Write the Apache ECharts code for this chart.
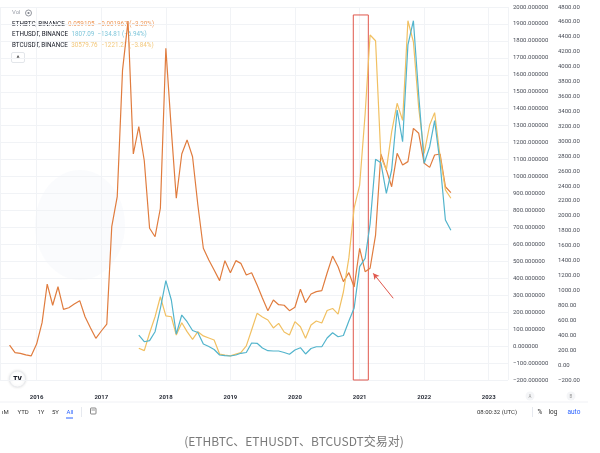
<!DOCTYPE html>
<html><head><meta charset="utf-8">
<script src="https://cdn.jsdelivr.net/npm/echarts@6/dist/echarts.min.js"></script>
<style>html,body{margin:0;padding:0;background:#fff;}#c{width:600px;height:453px;}</style>
</head><body><div id="c"></div>
<script>
// Monthly points (bar start dates); value = that month's close
const months = [
 '2015-08','2015-09','2015-10','2015-11','2015-12',
 '2016-01','2016-02','2016-03','2016-04','2016-05','2016-06','2016-07','2016-08','2016-09','2016-10','2016-11','2016-12',
 '2017-01','2017-02','2017-03','2017-04','2017-05','2017-06','2017-07','2017-08','2017-09','2017-10','2017-11','2017-12',
 '2018-01','2018-02','2018-03','2018-04','2018-05','2018-06','2018-07','2018-08','2018-09','2018-10','2018-11','2018-12',
 '2019-01','2019-02','2019-03','2019-04','2019-05','2019-06','2019-07','2019-08','2019-09','2019-10','2019-11','2019-12',
 '2020-01','2020-02','2020-03','2020-04','2020-05','2020-06','2020-07','2020-08','2020-09','2020-10','2020-11','2020-12',
 '2021-01','2021-02','2021-03','2021-04','2021-05','2021-06','2021-07','2021-08','2021-09','2021-10','2021-11','2021-12',
 '2022-01','2022-02','2022-03','2022-04','2022-05','2022-06'
];
// ETHBTC, on scale A (6-decimal axis)
const ethbtc = [
 6,-39,-43,-52,-58,
 12,138,366,241,350,217,226,248,268,173,107,46,
 89,130,704,881,1628,1917,1133,1294,1093,695,645,813,
 1756,1274,872,1133,1216,1117,832,577,508,449,386,504,
 433,504,488,419,433,360,284,209,272,244,241,209,
 229,335,256,307,321,327,431,531,468,380,433,349,
 577,439,459,655,1133,1039,940,1137,1068,1088,1284,1255,
 1078,1054,1127,1133,940,905
];
// ETHUSDT, on scale B (2-decimal axis), starts 2017-08
const ethusdt = [
 403,313,327,447,761,
 1131,872,417,671,581,464,437,283,249,209,135,128,
 122,135,158,169,296,292,229,193,189,189,169,145,
 202,233,149,222,246,246,363,434,380,397,591,765,
 1319,1431,1891,2759,2713,2303,2615,3419,2994,4291,4616,3620,
 2705,2927,3276,2705,1945,1807.09
];
// BTCUSDT, drawn on scale A, starts 2017-08
const btcusdt = [
 -13,-27,77,173,291,
 178,173,65,138,85,40,85,60,48,36,-47,-53,
 -58,-47,-39,1,95,193,172,154,107,134,83,65,
 144,114,46,124,148,136,210,222,189,319,520,815,
 950,1369,1835,1801,1115,1039,1263,1432,1331,1919,1795,1404,
 1137,1304,1377,1117,921,872
];
const legendRows = [
 {name:'ETHBTC, BINANCE', value:'0.059105  \u22120.001967 (\u22123.20%)', color:'#ee9a5c'},
 {name:'ETHUSDT, BINANCE', value:'1807.09  \u2212134.81 (\u22126.94%)', color:'#7fc6da'},
 {name:'BTCUSDT, BINANCE', value:'30579.76  \u22121221.21 (\u22123.84%)', color:'#f2c77a'}
];
const yearTicks = ['2016','2017','2018','2019','2020','2021','2022','2023'];

const C_ORANGE = '#e07c3e', C_BLUE = '#52b4cc', C_YELLOW = '#f1c062', C_RED = '#e0574c';
const FONT = 'Roboto, "Noto Sans", sans-serif';

function pair(vals, startIdx) {
  return vals.map((v, i) => [months[startIdx + i] + '-01', v]);
}
const ethStart = months.indexOf('2017-08');

function fmt(v, d) {
  const s = Math.abs(v).toFixed(d);
  return (v < 0 ? '\u2212' : '') + s;
}

const chart = echarts.init(document.getElementById('c'), null, {renderer:'canvas'});

const graphics = [
  {type:'ellipse', shape:{cx:80, cy:225, rx:45, ry:55}, style:{fill:'rgba(228,234,245,0.18)'}, silent:true, z:-10},
  {type:'text', left:12, top:9, style:{text:'Vol', fontSize:6, fill:'#9a9ea8', fontFamily:FONT}},
  {type:'circle', shape:{cx:28.5, cy:13, r:3}, style:{fill:'none', stroke:'#7a7e88', lineWidth:0.8}},
  {type:'circle', shape:{cx:28.5, cy:13, r:1.1}, style:{fill:'#7a7e88'}},
  {type:'rect', shape:{x:11.5, y:52.5, width:13, height:10, r:1.5}, style:{fill:'#fff', stroke:'#dcdfe5', lineWidth:0.8}},
  {type:'text', x:18, y:59, style:{text:'^', fontSize:7, fill:'#333', align:'center', verticalAlign:'middle', fontFamily:FONT, fontWeight:'bold'}},
  // TV logo
  {type:'circle', shape:{cx:17.5, cy:379, r:8}, style:{fill:'#fff', stroke:'#e6e8ec', lineWidth:0.8, shadowBlur:3, shadowColor:'rgba(0,0,0,0.12)'}},
  {type:'text', x:17.5, y:379.5, style:{text:'TV', fontSize:6.5, fill:'#131722', align:'center', verticalAlign:'middle', fontWeight:900, fontFamily:FONT}},
  // A / B scale badges
  {type:'circle', shape:{cx:530, cy:396, r:4.5}, style:{fill:'#f4f5f7'}},
  {type:'text', x:530, y:396.5, style:{text:'A', fontSize:4.5, fill:'#999', align:'center', verticalAlign:'middle', fontFamily:FONT}},
  {type:'circle', shape:{cx:571, cy:396, r:4.5}, style:{fill:'#f4f5f7'}},
  {type:'text', x:571, y:396.5, style:{text:'B', fontSize:4.5, fill:'#999', align:'center', verticalAlign:'middle', fontFamily:FONT}},
  // separator
  {type:'line', shape:{x1:0, y1:402, x2:588, y2:402}, style:{stroke:'#eceef2', lineWidth:0.8}},
  // bottom toolbar
  {type:'text', x:2, y:412, style:{text:'\u0131M', fontSize:6, fill:'#333', verticalAlign:'middle', fontFamily:FONT}},
  {type:'text', x:17.5, y:412, style:{text:'YTD', fontSize:6, fill:'#333', verticalAlign:'middle', fontFamily:FONT}},
  {type:'text', x:37.5, y:412, style:{text:'1Y', fontSize:6, fill:'#333', verticalAlign:'middle', fontFamily:FONT}},
  {type:'text', x:52, y:412, style:{text:'5Y', fontSize:6, fill:'#333', verticalAlign:'middle', fontFamily:FONT}},
  {type:'text', x:66.5, y:412, style:{text:'All', fontSize:6, fill:'#2962ff', verticalAlign:'middle', fontFamily:FONT}},
  {type:'line', shape:{x1:66, y1:418, x2:73, y2:418}, style:{stroke:'#2962ff', lineWidth:1}},
  {type:'line', shape:{x1:81.5, y1:407, x2:81.5, y2:417}, style:{stroke:'#e0e3eb', lineWidth:0.8}},
  {type:'rect', shape:{x:90.5, y:408, width:5.5, height:6, r:0.8}, style:{fill:'none', stroke:'#555', lineWidth:0.7}},
  {type:'line', shape:{x1:91.5, y1:410, x2:95, y2:410}, style:{stroke:'#555', lineWidth:0.6}},
  {type:'text', x:477, y:412, style:{text:'08:00:32 (UTC)', fontSize:6, fill:'#333', verticalAlign:'middle', fontFamily:FONT}},
  {type:'line', shape:{x1:532.5, y1:407, x2:532.5, y2:417}, style:{stroke:'#e0e3eb', lineWidth:0.8}},
  {type:'text', x:537.5, y:412, style:{text:'%', fontSize:6.5, fill:'#333', verticalAlign:'middle', fontFamily:FONT}},
  {type:'text', x:548.5, y:412, style:{text:'log', fontSize:6.5, fill:'#333', verticalAlign:'middle', fontFamily:FONT}},
  {type:'text', x:567.5, y:412, style:{text:'auto', fontSize:6.5, fill:'#2962ff', verticalAlign:'middle', fontFamily:FONT}},
  // caption
  {type:'text', x:294, y:441, style:{text:'(ETHBTC\u3001ETHUSDT\u3001BTCUSDT\u4ea4\u6613\u5bf9)', fontSize:12, fill:'#7a7a7a', align:'center', verticalAlign:'middle', fontFamily:'"Noto Sans CJK SC", "Noto Sans", sans-serif'}}
];
legendRows.forEach((r, i) => {
  graphics.push({type:'text', x:12, y:24.3 + i * 10.5, style:{
    text:'{n|' + r.name + '} {v|' + r.value + '}', verticalAlign:'middle',
    rich:{n:{fontSize:6.3, fill:'#131722', fontFamily:FONT}, v:{fontSize:6.3, fill:r.color, fontFamily:FONT}}
  }});
});

chart.setOption({
  animation:false,
  backgroundColor:'#fff',
  textStyle:{fontFamily:FONT},
  grid:{left:0, right:92, top:7, bottom:73},
  xAxis:{
    type:'time', min:'2015-06-08', max:'2023-04-20',
    minInterval:365*86400000,
    axisLine:{show:false}, axisTick:{show:false},
    axisLabel:{
      fontSize:6, fontWeight:'bold', color:'#2a2e39', margin:14, showMinLabel:false, showMaxLabel:false,
      formatter:function(v){
        const d = new Date(v);
        const y = String(d.getFullYear());
        return (d.getMonth() === 0 && d.getDate() === 1 && yearTicks.indexOf(y) >= 0) ? y : '';
      }
    },
    splitLine:{show:true, lineStyle:{color:'#f1f3f6', width:1}}
  },
  yAxis:[
    {type:'value', position:'right', min:-200, max:2000, interval:100,
     axisLine:{show:false}, axisTick:{show:false},
     axisLabel:{fontSize:6, color:'#4a4e58', margin:5, formatter:v => fmt(v, 6)},
     splitLine:{lineStyle:{color:'#f1f3f6', width:1}}},
    {type:'value', position:'right', offset:46, min:-200, max:4800, interval:200,
     axisLine:{show:false}, axisTick:{show:false},
     axisLabel:{fontSize:6, color:'#4a4e58', margin:4, formatter:v => fmt(v, 2)},
     splitLine:{show:false}}
  ],
  graphic:graphics,
  series:[
    {name:'ETHBTC', type:'line', yAxisIndex:0, data:pair(ethbtc, 0), showSymbol:false,
     lineStyle:{color:C_ORANGE, width:1.2}, itemStyle:{color:C_ORANGE}, z:2,
     markArea:{silent:true, itemStyle:{color:'rgba(0,0,0,0)', borderColor:C_RED, borderWidth:1},
       data:[[{xAxis:'2020-11-26', yAxis:1953}, {xAxis:'2021-02-19', yAxis:-200}]]},
     markLine:{silent:true, symbol:['none','arrow'], symbolSize:[5,6],
       lineStyle:{color:C_RED, width:1, type:'solid'}, label:{show:false},
       data:[[{coord:['2021-07-10', 282]}, {coord:['2021-03-19', 429]}]]}
    },
    {name:'ETHUSDT', type:'line', yAxisIndex:1, data:pair(ethusdt, ethStart), showSymbol:false,
     lineStyle:{color:C_BLUE, width:1.2}, itemStyle:{color:C_BLUE}, z:3,
     markLine:{silent:true, symbol:'none', lineStyle:{opacity:0},
       data:[{yAxis:ethusdt[ethusdt.length - 1]}],
       label:{show:true, position:'end', distance:47, formatter:p => p.value.toFixed(2),
         backgroundColor:C_BLUE, color:'#0f2f3a', fontSize:6, padding:[1.5,2.5,1.5,2.5], fontFamily:FONT}}
    },
    {name:'BTCUSDT', type:'line', yAxisIndex:0, data:pair(btcusdt, ethStart), showSymbol:false,
     lineStyle:{color:C_YELLOW, width:1.2}, itemStyle:{color:C_YELLOW}, z:2}
  ]
});
</script></body></html>
